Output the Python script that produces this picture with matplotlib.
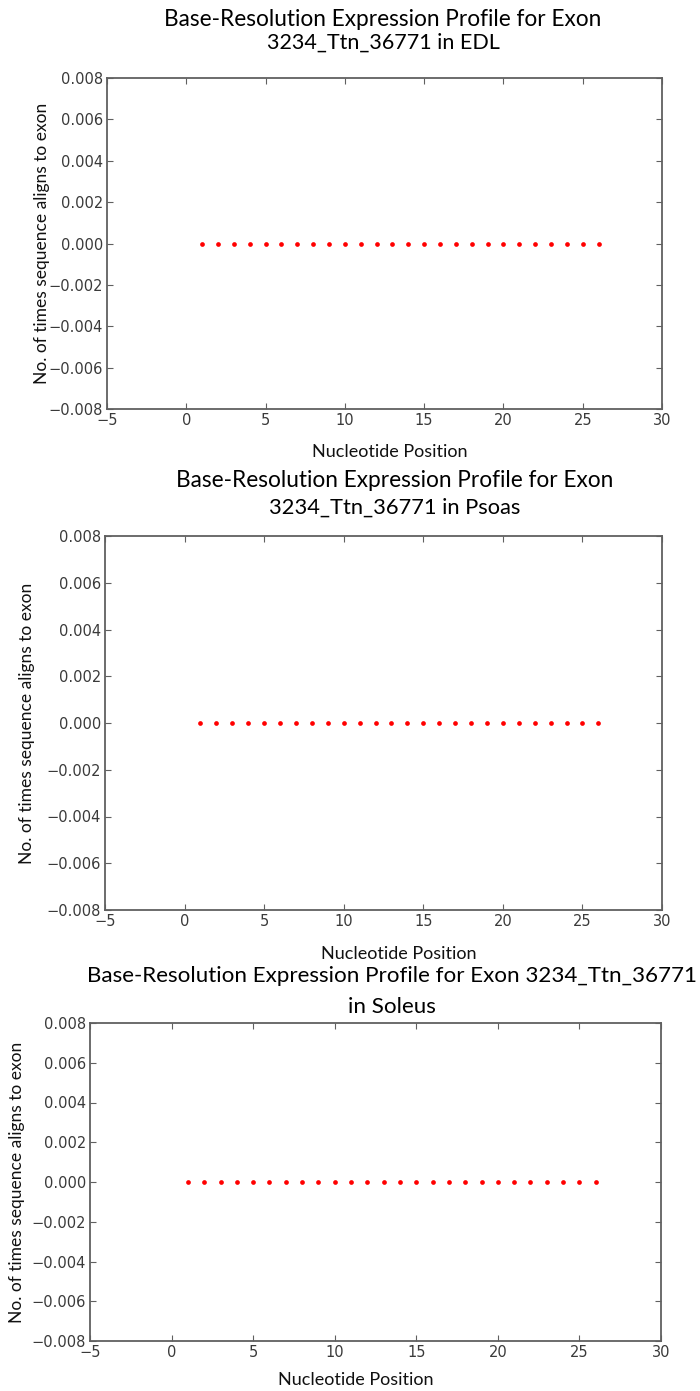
import matplotlib
matplotlib.use("Agg")
import matplotlib.pyplot as plt

# Nucleotide positions along exon 3234_Ttn_36771 and per-base read counts
positions = [1, 2, 3, 4, 5, 6, 7, 8, 9, 10, 11, 12, 13,
             14, 15, 16, 17, 18, 19, 20, 21, 22, 23, 24, 25, 26]
edl_counts = [0, 0, 0, 0, 0, 0, 0, 0, 0, 0, 0, 0, 0,
              0, 0, 0, 0, 0, 0, 0, 0, 0, 0, 0, 0, 0]
psoas_counts = [0, 0, 0, 0, 0, 0, 0, 0, 0, 0, 0, 0, 0,
                0, 0, 0, 0, 0, 0, 0, 0, 0, 0, 0, 0, 0]
soleus_counts = [0, 0, 0, 0, 0, 0, 0, 0, 0, 0, 0, 0, 0,
                 0, 0, 0, 0, 0, 0, 0, 0, 0, 0, 0, 0, 0]

x_ticks = [-5, 0, 5, 10, 15, 20, 25, 30]
y_ticks = [-0.008, -0.006, -0.004, -0.002, 0.000, 0.002, 0.004, 0.006, 0.008]

titles = [
    ["Base-Resolution Expression Profile for Exon", "3234_Ttn_36771 in EDL"],
    ["Base-Resolution Expression Profile for Exon", "3234_Ttn_36771 in Psoas"],
    ["Base-Resolution Expression Profile for Exon 3234_Ttn_36771", "in Soleus"],
]
x_label = "Nucleotide Position"
y_label = "No. of times sequence aligns to exon"
series = [edl_counts, psoas_counts, soleus_counts]

W, H = 700, 1391
fig = plt.figure(figsize=(W / 100, H / 100), dpi=100)
fig.patch.set_facecolor("white")

LABEL_FONT = ["Lato", "DejaVu Sans"]
TICK_COLOR = "#3a3a3a"
SPINE_COLOR = "#606060"

# pixel layout of each panel: axes box, title line centres, label positions
panels = [
    dict(box=(107, 78, 662, 409), title_x=383, title_y=(20, 43),
         title_w=(437, 233), xlab=(390, 452), ylab=(42, 243)),
    dict(box=(105, 536, 662, 910), title_x=395, title_y=(481, 508),
         title_w=(436, 252), xlab=(399, 954), ylab=(27, 723)),
    dict(box=(90, 1023, 661, 1341), title_x=392, title_y=(976, 1007),
         title_w=(609, 88), xlab=(356, 1380), ylab=(17, 1182)),
]

renderer = fig.canvas.get_renderer()


def fitted_text(x, y, s, width, size, **kw):
    t = fig.text(x / W, 1 - y / H, s, ha="center", va="center",
                 family=LABEL_FONT, fontsize=size, **kw)
    w = t.get_window_extent(renderer).width
    t.set_fontsize(size * width / w)
    return t


for p, counts, (line1, line2) in zip(panels, series, titles):
    x0, y0, x1, y1 = p["box"]
    ax = fig.add_axes([x0 / W, 1 - y1 / H, (x1 - x0) / W, (y1 - y0) / H])
    ax.plot(positions, counts, linestyle="none", marker="o",
            markersize=3.4, color="red", markeredgewidth=0)
    ax.set_xlim(-5, 30)
    ax.set_ylim(-0.008, 0.008)
    ax.set_xticks(x_ticks)
    ax.set_yticks(y_ticks)
    ax.set_yticklabels([f"{v:.3f}".replace("-", "\u2212") for v in y_ticks])
    ax.tick_params(direction="in", length=4, width=0.8, top=True, right=True,
                   colors=SPINE_COLOR, labelcolor=TICK_COLOR, labelsize=10.5,
                   pad=3)
    for lab in ax.get_xticklabels() + ax.get_yticklabels():
        lab.set_family("DejaVu Sans")
    for sp in ax.spines.values():
        sp.set_color(SPINE_COLOR)
        sp.set_linewidth(1.3)

    fitted_text(p["title_x"], p["title_y"][0], line1, p["title_w"][0], 15,
                color="black")
    fitted_text(p["title_x"], p["title_y"][1], line2, p["title_w"][1], 15,
                color="black")
    fitted_text(p["xlab"][0], p["xlab"][1], x_label, 156, 12, color="#111111")
    t = fig.text(p["ylab"][0] / W, 1 - p["ylab"][1] / H, y_label,
                 ha="center", va="center", rotation=90,
                 family=LABEL_FONT, fontsize=12, color="#111111")
    h = t.get_window_extent(renderer).height
    t.set_fontsize(12 * 280 / h)

fig.savefig("out.png", dpi=100, facecolor="white")
